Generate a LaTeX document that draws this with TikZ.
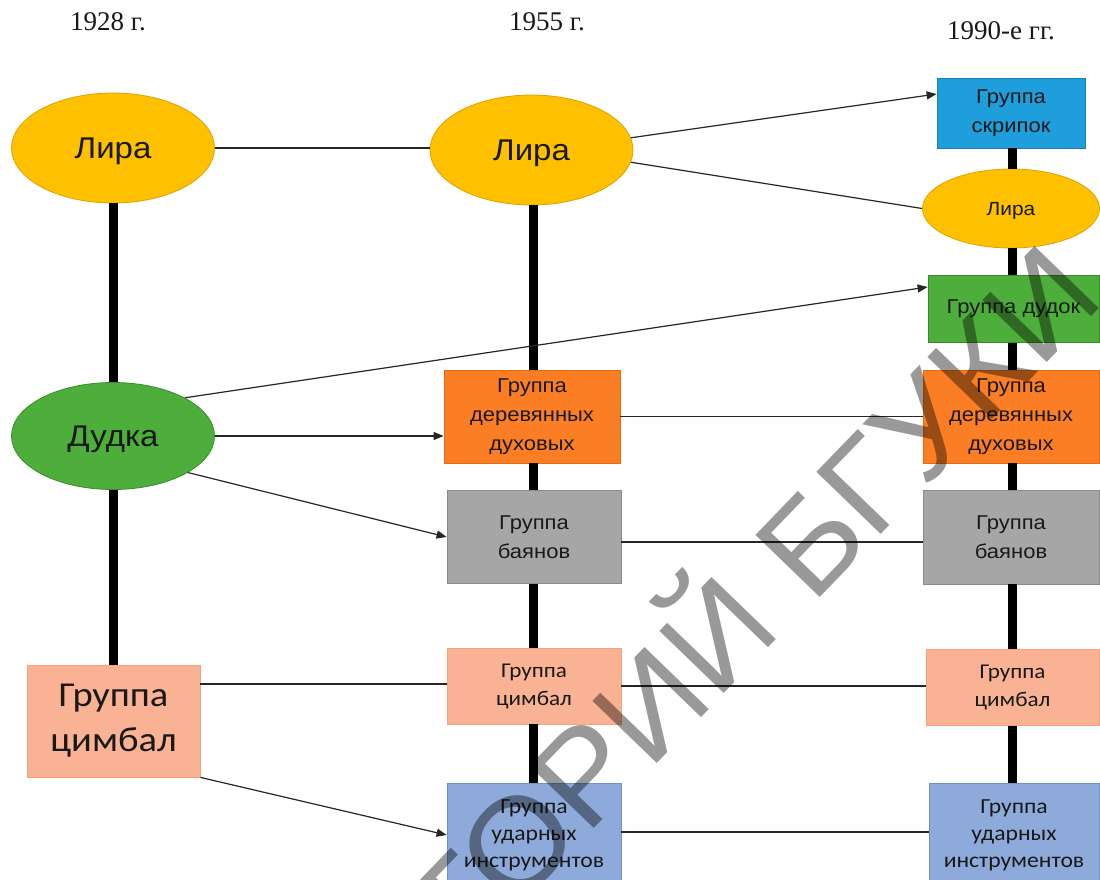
\documentclass[tikz,border=0pt]{standalone}
\usepackage{fontspec}
\setmainfont[FakeStretch=1.1]{Liberation Sans}
\newfontfamily\yrfont{Liberation Serif}
\newfontfamily\calfont[FakeStretch=1.1]{Carlito}
\newfontfamily\wmfont[FakeStretch=1.04]{Liberation Sans}
\usetikzlibrary{shapes.geometric,arrows.meta,calc}
\definecolor{gold}{HTML}{FFC000}
\definecolor{goldb}{HTML}{D9A400}
\definecolor{grn}{HTML}{4DAE3B}
\definecolor{grnb}{HTML}{3A8A2C}
\definecolor{orng}{HTML}{FC7E24}
\definecolor{orngb}{HTML}{E06B12}
\definecolor{gry}{HTML}{A6A6A6}
\definecolor{gryb}{HTML}{8A8A8A}
\definecolor{slmn}{HTML}{F9B394}
\definecolor{slmnb}{HTML}{F2A47F}
\definecolor{lblue}{HTML}{8EAADB}
\definecolor{lblueb}{HTML}{6F90C9}
\definecolor{skyb}{HTML}{1E9EDA}
\definecolor{skybb}{HTML}{1A7FB3}
\begin{document}
\begin{tikzpicture}[x=1pt,y=-1pt,
  spine/.style={line width=9pt,black},
  link/.style={line width=1.2pt,black!85},
  arr/.style={link,-{Triangle[length=10pt,width=8pt]}},
  ell/.style={ellipse,inner sep=0pt,line width=0.8pt,text=black!90,text depth=0pt},
  box/.style={rectangle,inner sep=0pt,line width=0.8pt,align=center,text=black!90},
  big/.style={font=\fontsize{30}{36}\selectfont},
  mid/.style={font=\fontsize{20}{29}\selectfont},
  cal/.style={font=\calfont\fontsize{21}{28}\selectfont},
  yr/.style={font=\yrfont\fontsize{27}{30}\selectfont,text=black!90},
  wm/.style={font=\wmfont\fontsize{130}{130}\selectfont,text=black,text opacity=0.4,fill opacity=0.4,inner sep=0pt,rotate=46}
]
\useasboundingbox[fill=white] (0,0) rectangle (1100,879);

% years
\node[yr] (y1) at (108,22) {1928 г.};
\node[yr] (y2) at (547,22) {1955 г.};
\node[yr] (y3) at (1001,31) {1990-е гг.};

% column 1928
\node[ell,big,fill=gold,draw=goldb,minimum width=203pt,minimum height=110pt] (L1) at (113,148) {Лира};
\node[ell,big,fill=grn,draw=grnb,minimum width=203pt,minimum height=107pt] (D1) at (113,436) {Дудка};
\node[box,fill=slmn,draw=slmnb,minimum width=173pt,minimum height=112pt,font=\calfont\fontsize{35}{45}\selectfont] (C1) at (113.5,721) {Группа\\цимбал};

% column 1955
\node[ell,big,fill=gold,draw=goldb,minimum width=203pt,minimum height=110pt] (L2) at (531.5,150) {Лира};
\node[box,mid,fill=orng,draw=orngb,minimum width=176pt,minimum height=93pt] (O2) at (532,416.5) {Группа\\деревянных\\духовых};
\node[box,mid,fill=gry,draw=gryb,minimum width=174pt,minimum height=93pt] (G2) at (534,537) {Группа\\баянов};
\node[box,cal,fill=slmn,draw=slmnb,minimum width=174pt,minimum height=76pt] (S2) at (534,686) {Группа\\цимбал};
\node[box,fill=lblue,draw=lblueb,minimum width=174pt,minimum height=104pt,font=\calfont\fontsize{21.5}{27}\selectfont] (B2) at (534,835) {Группа\\ударных\\инструментов};

% column 1990s
\node[box,mid,fill=skyb,draw=skybb,minimum width=148pt,minimum height=70pt] (Sk) at (1011,113) {Группа\\скрипок};
\node[ell,fill=gold,draw=goldb,minimum width=177pt,minimum height=79pt,font=\fontsize{19}{22}\selectfont] (L3) at (1011,208.5) {Лира};
\node[box,mid,fill=grn,draw=grnb,minimum width=171pt,minimum height=67pt] (Gd) at (1013.5,309) {Группа дудок};
\node[box,mid,fill=orng,draw=orngb,minimum width=176pt,minimum height=93pt] (O3) at (1011,416.5) {Группа\\деревянных\\духовых};
\node[box,mid,fill=gry,draw=gryb,minimum width=176pt,minimum height=94pt] (G3) at (1011,537) {Группа\\баянов};
\node[box,cal,fill=slmn,draw=slmnb,minimum width=173pt,minimum height=76pt] (S3) at (1012.5,687.5) {Группа\\цимбал};
\node[box,cal,fill=lblue,draw=lblueb,minimum width=170pt,minimum height=104pt,font=\calfont\fontsize{21.5}{27}\selectfont] (B3) at (1014,835) {Группа\\ударных\\инструментов};

% spines
\draw[spine] (L1.south -| 113,0) -- (D1.north -| 113,0);
\draw[spine] (D1.south -| 113,0) -- (C1.north -| 113,0);
\draw[spine] (L2.south -| 533,0) -- (O2.north -| 533,0);
\draw[spine] (O2.south -| 533,0) -- (G2.north -| 533,0);
\draw[spine] (G2.south -| 533,0) -- (S2.north -| 533,0);
\draw[spine] (S2.south -| 533,0) -- (B2.north -| 533,0);
\draw[spine] (Sk.south -| 1012,0) -- (L3.north -| 1012,0);
\draw[spine] (L3.south -| 1012,0) -- (Gd.north -| 1012,0);
\draw[spine] (Gd.south -| 1012,0) -- (O3.north -| 1012,0);
\draw[spine] (O3.south -| 1012,0) -- (G3.north -| 1012,0);
\draw[spine] (G3.south -| 1012,0) -- (S3.north -| 1012,0);
\draw[spine] (S3.south -| 1012,0) -- (B3.north -| 1012,0);

% links
\draw[link] (L1.east) -- (L1.east -| L2.west);
\draw[arr] (L2.7) -- ([yshift=19pt]Sk.west);
\draw[link] (L2.-7) -- (L3.west);
\draw[arr] (D1.28) -- ([yshift=22pt]Gd.west);
\draw[arr] (D1.east) -- (D1.east -| O2.west);
\draw[arr] (D1.-26) -- (G2.west);
\draw[link] (O2.east) -- (O3.west);
\draw[link] ([yshift=-5pt]G2.east) -- ([yshift=-5pt]G3.west);
\draw[link] ([yshift=2pt]S2.west -| C1.east) -- ([yshift=2pt]S2.west);
\draw[link] (S2.east) -- (S2.east -| S3.west);
\draw[arr] (C1.south east) -- (B2.west);
\draw[link] ([yshift=3pt]B2.east) -- ([yshift=3pt]B3.west);

% watermark
\node[wm,anchor=base east] (wm1) at (784,632) {РЕПОЗИТОРИЙ};
\node[wm,anchor=base west] (wm2) at (812,606) {БГУКИ};
\end{tikzpicture}
\end{document}
